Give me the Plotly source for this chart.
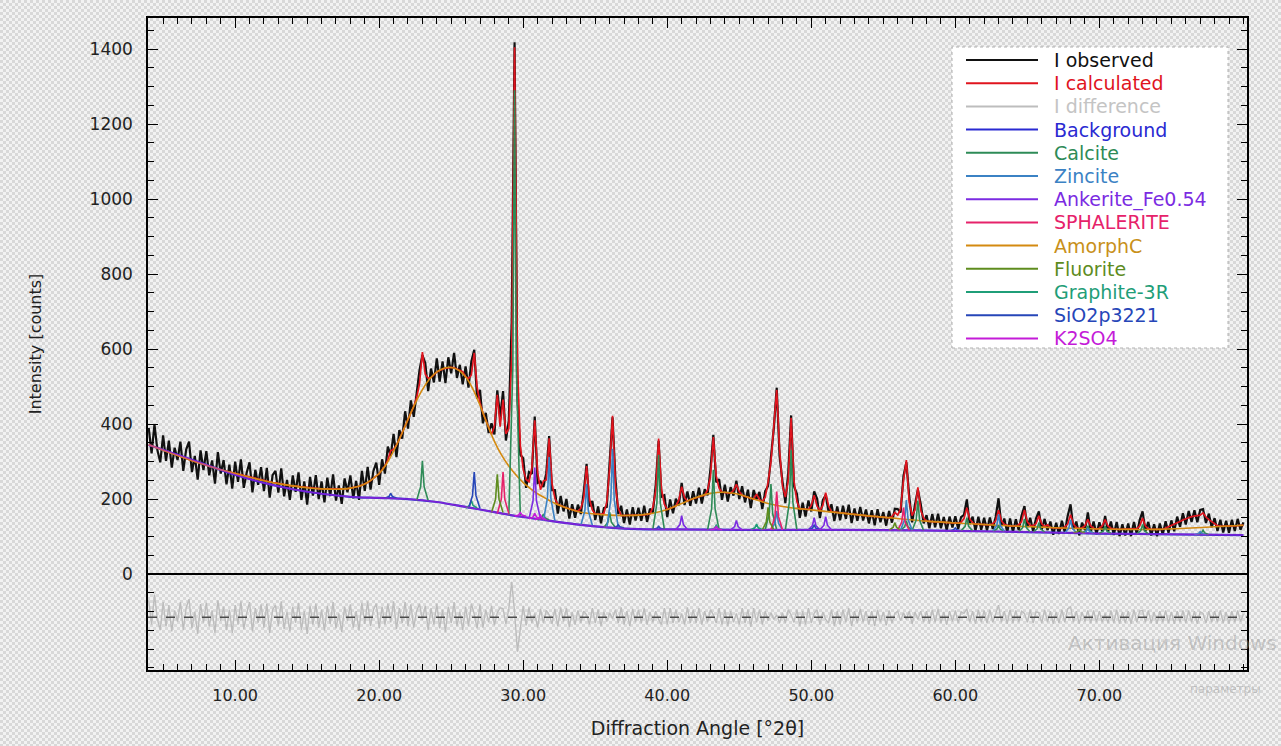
import base64

import numpy as np
import plotly.graph_objects as go

# scan: 4.0 .. 80.0 deg 2theta, 0.2 deg step
ANGLE_START = 4.0
ANGLE_STEP = 0.2

I_OBS = [
    390, 322, 399, 331, 298, 370, 302, 356, 284, 337,   # 4
    304, 353, 275, 332, 353, 272, 315, 252, 330, 277,   # 6
    328, 263, 303, 241, 325, 268, 304, 239, 292, 228,   # 8
    300, 246, 306, 230, 270, 298, 218, 278, 238, 285,   # 10
    221, 283, 204, 264, 275, 217, 282, 207, 251, 198,   # 12
    263, 219, 271, 198, 247, 185, 259, 209, 264, 200,   # 14
    247, 191, 257, 208, 266, 196, 236, 187, 255, 218,   # 16
    263, 202, 248, 198, 275, 222, 286, 225, 275, 297,   # 18
    238, 306, 268, 340, 315, 374, 312, 384, 361, 434,   # 20
    388, 463, 419, 487, 544, 584, 563, 488, 548, 511,   # 22
    575, 513, 567, 509, 578, 535, 590, 523, 558, 506,   # 24
    554, 497, 567, 598, 468, 491, 402, 430, 376, 402,   # 26
    372, 490, 418, 488, 356, 410, 672, 1418, 468, 318,  # 28
    309, 230, 272, 267, 420, 243, 247, 232, 269, 368,   # 30
    224, 224, 161, 208, 167, 200, 148, 186, 150, 185,   # 32
    160, 218, 294, 180, 195, 144, 180, 135, 176, 179,   # 34
    294, 418, 256, 160, 182, 136, 172, 132, 178, 143,   # 36
    177, 142, 182, 139, 174, 164, 238, 355, 206, 210,   # 38
    152, 199, 162, 201, 183, 243, 184, 220, 182, 221,   # 40
    188, 230, 188, 226, 210, 280, 371, 245, 253, 198,   # 42
    238, 193, 232, 209, 249, 200, 234, 191, 225, 176,   # 44
    224, 199, 219, 173, 221, 235, 312, 389, 497, 314,   # 46
    247, 189, 270, 423, 234, 214, 150, 190, 153, 196,   # 48
    167, 220, 201, 149, 197, 211, 166, 186, 141, 180,   # 50
    143, 182, 147, 185, 136, 175, 142, 179, 143, 172,   # 52
    135, 170, 130, 173, 138, 165, 129, 168, 137, 174,   # 54
    173, 164, 261, 298, 208, 138, 185, 225, 186, 135,   # 56
    157, 122, 160, 125, 161, 122, 152, 117, 153, 124,   # 58
    154, 120, 152, 158, 199, 133, 153, 115, 153, 118,   # 60
    150, 116, 151, 120, 152, 202, 128, 148, 111, 148,   # 62
    112, 146, 117, 156, 181, 125, 150, 113, 148, 167,   # 64
    118, 147, 117, 140, 105, 137, 107, 142, 111, 155,   # 66
    186, 119, 140, 103, 137, 117, 164, 112, 140, 106,   # 68
    138, 114, 155, 112, 140, 104, 139, 101, 133, 103,   # 70
    135, 101, 139, 107, 144, 167, 114, 139, 103, 133,   # 72
    101, 135, 105, 141, 110, 143, 114, 153, 126, 162,   # 74
    132, 168, 139, 170, 138, 171, 173, 136, 161, 125,   # 76
    149, 115, 145, 111, 142, 110, 145, 115, 147, 118,   # 78
    138,                                                # 80
]

I_CALC = [
    345, 342, 339, 336, 333, 330, 327, 324, 322, 319,
    316, 313, 310, 307, 305, 302, 300, 297, 295, 292,
    290, 288, 285, 283, 280, 278, 276, 274, 272, 270,
    268, 266, 264, 262, 260, 258, 256, 254, 253, 251,
    249, 247, 246, 244, 243, 241, 240, 239, 237, 236,
    235, 234, 233, 232, 231, 230, 229, 229, 228, 228,
    227, 227, 227, 226, 226, 226, 226, 227, 227, 228,
    229, 230, 232, 234, 237, 240, 244, 249, 255, 261,
    268, 278, 288, 304, 329, 332, 344, 360, 377, 394,
    412, 429, 447, 471, 508, 592, 533, 522, 524, 531,
    539, 543, 547, 549, 550, 551, 550, 547, 544, 540,
    526, 521, 531, 590, 498, 457, 430, 410, 390, 372,
    394, 478, 393, 465, 374, 388, 578, 1405, 560, 342,
    279, 252, 246, 282, 410, 271, 225, 248, 251, 362,
    242, 202, 186, 182, 179, 176, 174, 172, 170, 167,
    175, 202, 288, 200, 171, 160, 160, 159, 162, 191,
    282, 422, 236, 176, 156, 156, 156, 156, 156, 157,
    157, 158, 158, 159, 160, 178, 222, 361, 226, 186,
    172, 175, 178, 181, 197, 233, 204, 194, 198, 201,
    204, 206, 208, 210, 224, 260, 365, 261, 229, 218,
    218, 217, 216, 223, 239, 220, 210, 207, 205, 202,
    200, 213, 199, 193, 205, 245, 300, 395, 491, 330,
    235, 205, 250, 417, 248, 194, 174, 174, 173, 172,
    183, 210, 181, 169, 183, 217, 182, 166, 165, 164,
    163, 162, 161, 161, 160, 159, 158, 157, 157, 156,
    155, 154, 154, 153, 152, 151, 151, 150, 153, 164,
    157, 174, 249, 304, 192, 156, 171, 231, 170, 149,
    141, 140, 140, 139, 139, 138, 138, 137, 137, 136,
    136, 136, 138, 148, 177, 147, 137, 133, 133, 132,
    132, 132, 131, 134, 142, 170, 142, 132, 129, 128,
    128, 128, 131, 140, 171, 139, 130, 129, 134, 155,
    134, 127, 131, 124, 123, 123, 123, 122, 125, 133,
    158, 133, 124, 121, 123, 129, 146, 128, 122, 120,
    122, 128, 145, 128, 122, 120, 119, 119, 119, 119,
    119, 119, 119, 121, 128, 149, 128, 121, 119, 119,
    119, 119, 119, 123, 126, 129, 132, 137, 140, 144,
    148, 150, 153, 154, 156, 157, 163, 152, 145, 139,
    133, 129, 127, 127, 128, 128, 129, 129, 129, 130,
    130,
]

DIFF_OFFSET = -115

BG_DEG = [4, 6, 8, 10, 12, 14, 16, 18, 20, 22, 24, 26, 28, 30, 32, 34, 36, 38,
          40, 45, 50, 55, 60, 65, 70, 75, 80]
BG_COUNTS = [344, 318, 291, 265, 243, 226, 214, 206, 203, 200, 192, 179, 165,
             152, 141, 131, 124, 120, 119, 118, 118, 117, 115, 112, 108, 106, 104]

AMORPH_DEG = [4, 5, 6, 7, 8, 9, 10, 11, 12, 13, 14, 15, 16, 17, 18, 19, 20,
              20.5, 21, 21.5, 22, 22.5, 23, 23.5, 24, 24.5, 25, 25.5, 26, 26.5,
              27, 27.5, 28, 28.5, 29, 29.5, 30, 30.5, 31, 31.5, 32, 33, 34, 35,
              36, 37, 38, 39, 40, 41, 42, 43, 44, 45, 46, 47, 48, 49, 50, 52,
              54, 56, 58, 60, 62, 64, 66, 68, 70, 72, 74, 76, 78, 80]
AMORPH_COUNTS = [345, 330, 316, 302, 290, 278, 268, 258, 249, 241, 235, 230,
                 227, 226, 229, 240, 268, 293, 328, 368, 412, 455, 492, 520,
                 539, 549, 551, 544, 526, 494, 450, 400, 354, 317, 288, 264,
                 244, 228, 214, 203, 192, 176, 165, 160, 157, 156, 157, 162,
                 172, 188, 204, 215, 218, 212, 200, 188, 180, 175, 171, 163,
                 155, 148, 141, 136, 132, 128, 125, 122, 120, 119, 119, 122,
                 126, 130]

# phase peaks: position, foot level, top level
CALCITE_DEG = [23.0, 29.4, 31.4, 36.0, 39.4, 43.2, 47.2, 48.6, 56.6, 57.4,
               60.8, 63.0, 64.8, 65.8, 69.2, 70.4, 73.0, 77.2]
CALCITE_BASE = [196, 156, 144, 124, 119, 118, 118, 118, 117, 116, 115, 114,
                112, 112, 109, 108, 107, 105]
CALCITE_TOP = [302, 1290, 160, 165, 318, 278, 240, 330, 142, 196, 150, 130,
               147, 137, 129, 128, 132, 117]

ZINCITE_DEG = [31.8, 34.4, 36.2, 47.6, 56.6, 63.0, 68.0, 69.2, 77.0]
ZINCITE_BASE = [142, 130, 124, 118, 117, 114, 110, 109, 105]
ZINCITE_TOP = [312, 240, 334, 168, 197, 159, 145, 121, 113]

ANKERITE_DEG = [30.8, 41.0, 44.8, 50.2, 51.0]
ANKERITE_BASE = [147, 119, 118, 118, 118]
ANKERITE_TOP = [284, 156, 143, 150, 153]

SPHALERITE_DEG = [28.6, 47.6, 56.4]
SPHALERITE_BASE = [161, 118, 117]
SPHALERITE_TOP = [272, 220, 177]

FLUORITE_DEG = [28.2, 47.0, 55.8, 68.6]
FLUORITE_BASE = [164, 118, 117, 110]
FLUORITE_TOP = [266, 178, 137, 118]

GRAPHITE_DEG = [26.4, 43.4, 46.2]
GRAPHITE_BASE = [176, 118, 118]
GRAPHITE_TOP = [196, 130, 133]

SIO2_DEG = [20.8, 26.6, 36.6, 39.4, 50.2, 60.0]
SIO2_BASE = [202, 175, 123, 119, 118, 115]
SIO2_TOP = [215, 272, 131, 127, 130, 123]

K2SO4_DEG = [29.8, 30.8, 31.2, 43.4]
K2SO4_BASE = [154, 147, 145, 118]
K2SO4_TOP = [164, 162, 157, 126]

X_TICKS = [10, 20, 30, 40, 50, 60, 70]
Y_TICKS = [0, 200, 400, 600, 800, 1000, 1200, 1400]

FONT = "DejaVu Sans"

angles = np.round(ANGLE_START + ANGLE_STEP * np.arange(len(I_OBS)), 1)
obs = np.array(I_OBS)
calc = np.array(I_CALC)
diff = obs - calc + DIFF_OFFSET


def peak_lines(deg, base, top, half=0.4, shoulder=0.12):
    xs, ys = [], []
    for d, b, t in zip(deg, base, top):
        s = b + 0.35 * (t - b)
        xs += [d - half, d - shoulder, d, d + shoulder, d + half, None]
        ys += [b, s, t, s, b, None]
    return xs, ys


# name, line colour, text colour
entries = [
    ("I observed", "#111111", "#111111"),
    ("I calculated", "#e0141e", "#e0141e"),
    ("I difference", "#bdbdbd", "#c4c4c4"),
    ("Background", "#2a2ad2", "#2a2ad2"),
    ("Calcite", "#2e8b57", "#2e8b57"),
    ("Zincite", "#3b82c4", "#3b82c4"),
    ("Ankerite_Fe0.54", "#7b2be2", "#7b2be2"),
    ("SPHALERITE", "#e6226a", "#e6226a"),
    ("AmorphC", "#d48a10", "#c8901a"),
    ("Fluorite", "#5e8c1e", "#5e8c1e"),
    ("Graphite-3R", "#1f9e78", "#1f9e78"),
    ("SiO2p3221", "#2646b8", "#2646b8"),
    ("K2SO4", "#c41bd8", "#c41bd8"),
]
col = {n: c for n, c, _ in entries}

traces = []
traces.append(go.Scatter(x=angles, y=diff, mode="lines", name="I difference",
                         line=dict(color=col["I difference"], width=1.4)))
traces.append(go.Scatter(x=angles, y=obs, mode="lines", name="I observed",
                         line=dict(color=col["I observed"], width=2.2)))
traces.append(go.Scatter(x=angles, y=calc, mode="lines", name="I calculated",
                         line=dict(color=col["I calculated"], width=1.7)))
traces.append(go.Scatter(x=BG_DEG, y=BG_COUNTS, mode="lines", name="Background",
                         line=dict(color=col["Background"], width=2.2, shape="spline")))
traces.append(go.Scatter(x=AMORPH_DEG, y=AMORPH_COUNTS, mode="lines", name="AmorphC",
                         line=dict(color=col["AmorphC"], width=1.6, shape="spline")))

phases = [
    ("Calcite", CALCITE_DEG, CALCITE_BASE, CALCITE_TOP),
    ("Zincite", ZINCITE_DEG, ZINCITE_BASE, ZINCITE_TOP),
    ("Ankerite_Fe0.54", ANKERITE_DEG, ANKERITE_BASE, ANKERITE_TOP),
    ("SPHALERITE", SPHALERITE_DEG, SPHALERITE_BASE, SPHALERITE_TOP),
    ("Fluorite", FLUORITE_DEG, FLUORITE_BASE, FLUORITE_TOP),
    ("Graphite-3R", GRAPHITE_DEG, GRAPHITE_BASE, GRAPHITE_TOP),
    ("SiO2p3221", SIO2_DEG, SIO2_BASE, SIO2_TOP),
    ("K2SO4", K2SO4_DEG, K2SO4_BASE, K2SO4_TOP),
]
for name, d, b, t in phases:
    xs, ys = peak_lines(d, b, t)
    traces.append(go.Scatter(x=xs, y=ys, mode="lines", name=name,
                             connectgaps=False,
                             line=dict(color=col[name], width=1.6)))

# K2SO4 is drawn over the background, which gives the purple base line
traces.append(go.Scatter(x=BG_DEG, y=BG_COUNTS, mode="lines", name="K2SO4 base",
                         line=dict(color="rgba(196,27,216,0.55)", width=1.6, shape="spline")))

fig = go.Figure(data=traces)

# grey checker page background
svg = (
    '<svg xmlns="http://www.w3.org/2000/svg" width="1281" height="746">'
    '<defs><pattern id="p" width="6" height="6" patternUnits="userSpaceOnUse">'
    '<rect width="6" height="6" fill="#f2f2f2"/>'
    '<rect width="3" height="3" fill="#d8d8d8"/>'
    '<rect x="3" y="3" width="3" height="3" fill="#d8d8d8"/>'
    '</pattern></defs><rect width="1281" height="746" fill="url(#p)"/></svg>'
)
bg_src = "data:image/svg+xml;base64," + base64.b64encode(svg.encode()).decode()

PL, PR, PT, PB = 148, 1247, 18, 670
pw, ph = PR - PL, PB - PT


def px(x):
    return (x - PL) / pw


def py(y):
    return (PB - y) / ph


fig.add_layout_image(dict(source=bg_src, xref="paper", yref="paper",
                          x=px(0), y=py(0), sizex=1281 / pw, sizey=746 / ph,
                          sizing="stretch", xanchor="left", yanchor="top",
                          layer="below"))

# dashed zero line of the difference curve
fig.add_shape(type="line", xref="paper", yref="y", x0=0, x1=1,
              y0=DIFF_OFFSET, y1=DIFF_OFFSET,
              line=dict(color="#4a4a4a", width=1.5, dash="dash"))

# legend box
fig.add_shape(type="rect", xref="paper", yref="paper",
              x0=px(952), x1=px(1228), y0=py(348), y1=py(47),
              fillcolor="white", line=dict(color="#b0b0b0", width=1, dash="dot"))
for i, (name, c, tc) in enumerate(entries):
    ypx = 60 + 23.2 * i
    fig.add_shape(type="line", xref="paper", yref="paper",
                  x0=px(966), x1=px(1038), y0=py(ypx), y1=py(ypx),
                  line=dict(color=c, width=2))
    fig.add_annotation(x=px(1052), y=py(ypx), xref="paper", yref="paper",
                       text=name, showarrow=False, xanchor="left", yanchor="middle",
                       font=dict(family=FONT, size=19, color=tc))

# faint system watermark
fig.add_annotation(x=px(1066), y=py(643), xref="paper", yref="paper",
                   text="Активация Windows", showarrow=False, xanchor="left",
                   yanchor="middle", font=dict(family=FONT, size=20, color="rgba(150,150,150,0.45)"))
fig.add_annotation(x=px(1188), y=py(689), xref="paper", yref="paper",
                   text="параметры", showarrow=False, xanchor="left",
                   yanchor="middle", font=dict(family=FONT, size=12, color="rgba(150,150,150,0.45)"))

fig.update_layout(
    width=1281,
    height=746,
    margin=dict(l=PL, r=1281 - PR, t=PT, b=746 - PB),
    paper_bgcolor="#e6e6e6",
    plot_bgcolor="rgba(0,0,0,0)",
    showlegend=False,
    font=dict(family=FONT, color="#222222"),
    xaxis=dict(
        range=[3.95, 80.25],
        tickmode="array",
        tickvals=X_TICKS,
        tickformat=".2f",
        ticks="inside",
        ticklen=10,
        tickwidth=1.3,
        tickcolor="black",
        minor=dict(tickmode="array", tickvals=list(range(4, 81)),
                   ticks="inside", ticklen=6, tickwidth=1, tickcolor="black"),
        showline=True,
        linecolor="black",
        linewidth=1.5,
        mirror="allticks",
        showgrid=False,
        zeroline=False,
        tickfont=dict(family=FONT, size=16, color="#222222"),
        ticklabelstandoff=10,
        title=dict(text="Diffraction Angle [°2θ]", standoff=18,
                   font=dict(family=FONT, size=19, color="#222222")),
        automargin=False,
    ),
    yaxis=dict(
        range=[-256, 1483],
        tickmode="array",
        tickvals=Y_TICKS,
        ticks="inside",
        ticklen=10,
        tickwidth=1.3,
        tickcolor="black",
        minor=dict(tickmode="array", tickvals=list(range(-250, 1451, 50)),
                   ticks="inside", ticklen=6, tickwidth=1, tickcolor="black"),
        showline=True,
        linecolor="black",
        linewidth=1.5,
        mirror="allticks",
        showgrid=False,
        zeroline=True,
        zerolinecolor="black",
        zerolinewidth=1.5,
        tickfont=dict(family=FONT, size=17, color="#222222"),
        ticklabelstandoff=10,
        title=dict(text="Intensity [counts]", standoff=44,
                   font=dict(family=FONT, size=16, color="#222222")),
        automargin=False,
    ),
)

fig.write_html("out.html", config={"displayModeBar": False},
               post_script="document.body.style.margin='0';")
